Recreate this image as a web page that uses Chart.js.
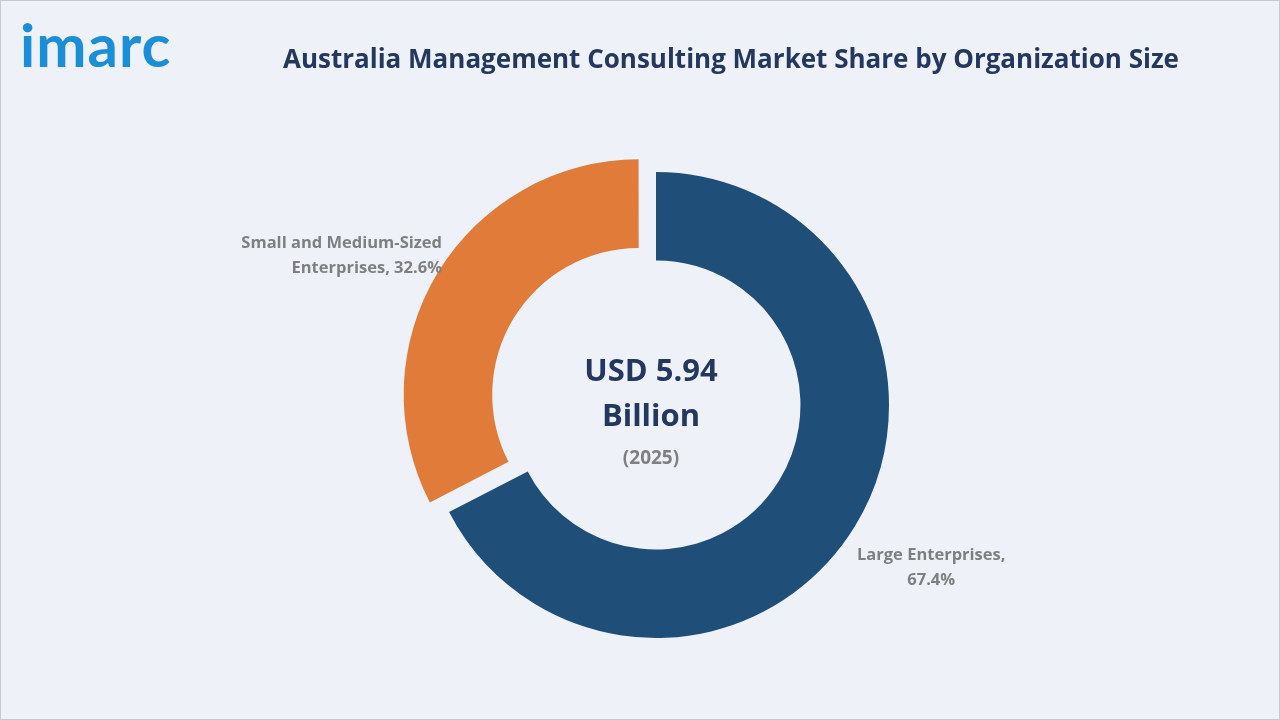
<!DOCTYPE html>
<html><head><meta charset="utf-8">
<script src="https://cdn.jsdelivr.net/npm/chart.js@4"></script>
<style>
html,body{margin:0;padding:0;}
body{width:1280px;height:720px;background:#eef2f8;position:relative;overflow:hidden;font-family:"Open Sans","DejaVu Sans",sans-serif;}
#frame{position:absolute;left:0;top:0;width:1278px;height:718px;border:1px solid #c8ccd2;}
#c{position:absolute;left:0;top:0;}
.t{position:absolute;white-space:nowrap;}
#logo{left:20px;top:14px;font-size:60px;font-weight:700;color:#1a8fd8;letter-spacing:1px;font-family:"Lato","Open Sans",sans-serif;line-height:1;}
#title{left:283px;top:40px;font-size:26px;font-weight:700;color:#24385f;}
.lab{font-size:16.5px;font-weight:700;color:#7f7f7f;line-height:25px;}
.ctr{left:546px;width:210px;text-align:center;font-weight:700;}
</style></head><body>
<div id="frame"></div>
<canvas id="c" width="1280" height="720"></canvas>
<div class="t" id="logo">imarc</div>
<div class="t" id="title">Australia Management Consulting Market Share by Organization Size</div>
<div class="t lab" style="right:838px;top:229px;text-align:right;">Small and Medium-Sized<br>Enterprises, 32.6%</div>
<div class="t lab" style="left:857px;top:541px;text-align:center;">Large Enterprises,<br>67.4%</div>
<div class="t ctr" style="top:348px;font-size:31px;color:#24385f;">USD 5.94</div>
<div class="t ctr" style="top:393px;font-size:31px;color:#24385f;">Billion</div>
<div class="t ctr" style="top:444px;font-size:19px;color:#7f7f7f;">(2025)</div>
<script>
const categories = ["Large Enterprises", "Small and Medium-Sized Enterprises"];
const shares = [67.4, 32.6];
const colors = ["#1f4e79", "#e07b39"];
const offsets = [0, 80];
new Chart(document.getElementById('c'), {
  type: 'doughnut',
  data: { labels: categories, datasets: [{ data: shares, backgroundColor: colors, borderWidth: 0, offset: offsets }] },
  options: {
    responsive: false, animation: false, cutout: '62%',
    layout: { padding: { left: 383, right: 351, top: 132, bottom: 42 } },
    plugins: { legend: { display: false }, tooltip: { enabled: false } }
  }
});
</script>
</body></html>
